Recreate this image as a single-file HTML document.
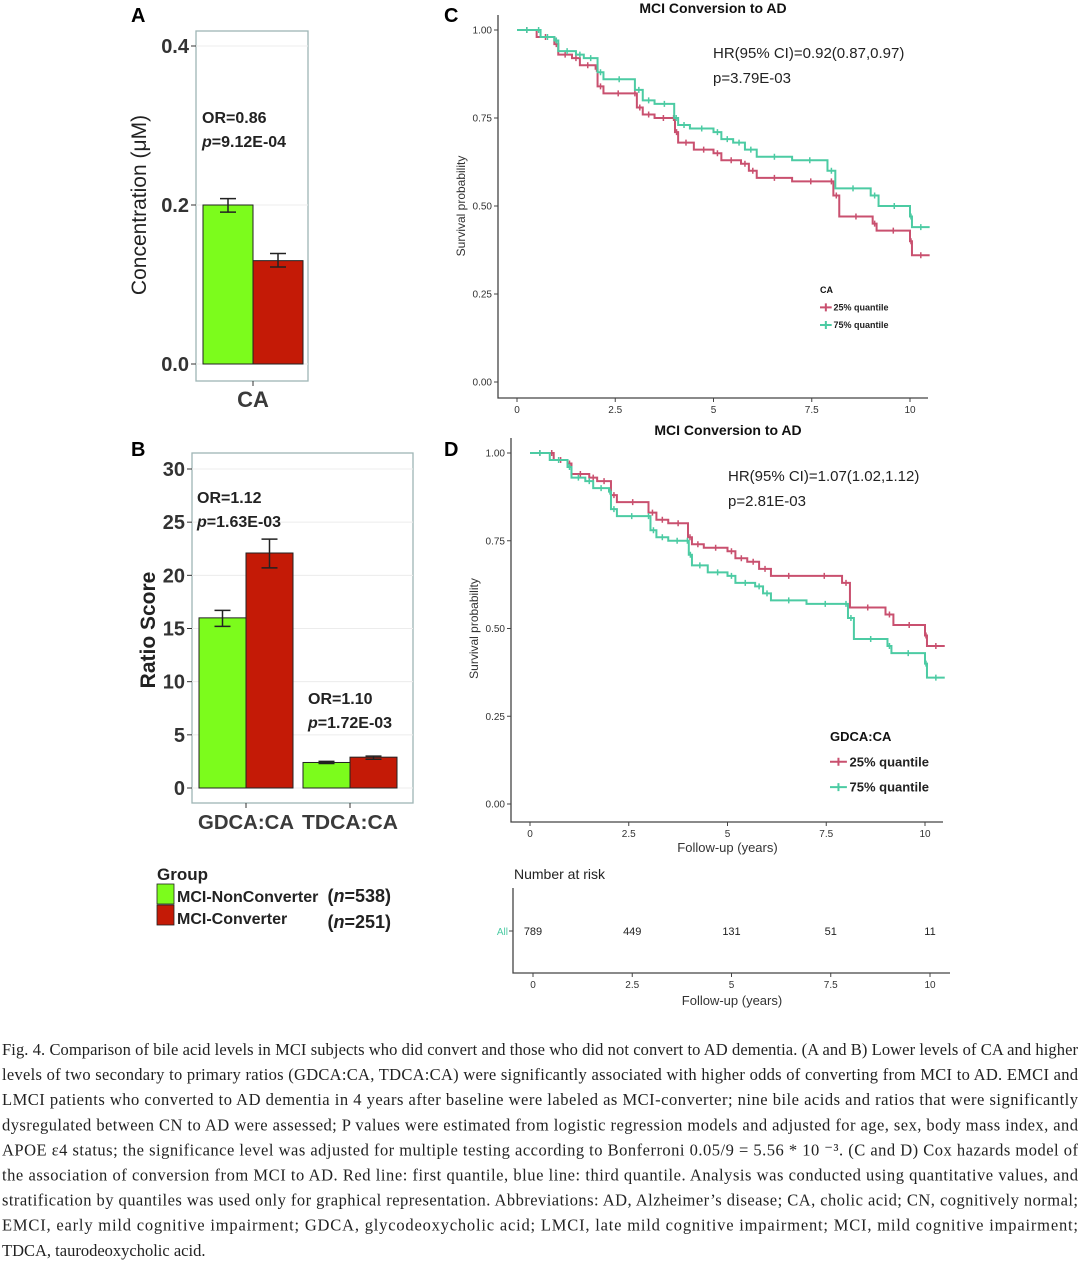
<!DOCTYPE html>
<html><head><meta charset="utf-8">
<style>
body{margin:0;background:#fff;width:1080px;height:1264px;overflow:hidden}
svg{position:absolute;left:0;top:0}
</style></head>
<body>
<svg id="fig" width="1080" height="1264" font-family="Liberation Sans, sans-serif"></svg>
<script>
// ---- Panel A data ----
const aCats = ["CA"];
const aNon = [0.20], aNonLo=[0.191], aNonHi=[0.208];
const aConv = [0.13], aConvLo=[0.122], aConvHi=[0.139];
const aTicks = [0.0, 0.2, 0.4];
// ---- Panel B data ----
const bCats = ["GDCA:CA","TDCA:CA"];
const bNon = [16.0, 2.4], bNonLo=[15.2,2.3], bNonHi=[16.7,2.5];
const bConv = [22.1, 2.9], bConvLo=[20.7,2.7], bConvHi=[23.4,3.0];
const bTicks = [0,5,10,15,20,25,30];
// ---- Survival data (time, survival) ----
const cRedT = [0,0.5,0.95,1.05,1.4,1.6,2.0,2.05,2.2,2.95,3.05,3.2,3.5,3.95,4.02,4.1,4.5,5.0,5.2,5.7,5.9,6.1,7.0,7.95,8.05,8.2,9.05,9.15,10.0,10.05,10.5];
const cRedS = [1.0,0.98,0.96,0.93,0.92,0.90,0.89,0.84,0.82,0.82,0.78,0.76,0.75,0.75,0.71,0.68,0.66,0.65,0.63,0.62,0.60,0.58,0.57,0.57,0.53,0.47,0.45,0.43,0.40,0.36,0.36];
const cGrnT = [0,0.5,0.6,0.95,1.05,1.5,1.7,2.05,2.2,3.0,3.2,3.5,4.0,4.1,4.4,5.0,5.2,5.5,5.8,6.1,7.0,7.9,8.1,9.0,9.2,10.0,10.05,10.5];
const cGrnS = [1.0,1.0,0.98,0.97,0.94,0.93,0.92,0.88,0.86,0.83,0.80,0.79,0.75,0.73,0.72,0.71,0.69,0.68,0.66,0.64,0.63,0.60,0.55,0.53,0.50,0.47,0.44,0.44];
const dRedT = cGrnT, dRedS = [1.0,1.0,0.98,0.97,0.94,0.93,0.92,0.88,0.86,0.83,0.81,0.80,0.76,0.74,0.73,0.72,0.70,0.69,0.67,0.65,0.65,0.63,0.56,0.54,0.51,0.48,0.45,0.45];
const dGrnT = cRedT, dGrnS = cRedS;
const survTicks = [0,0.25,0.5,0.75,1.0];
const survTickLabels = ["0.00","0.25","0.50","0.75","1.00"];
const timeTicks = [0,2.5,5,7.5,10];
const timeTickLabels = ["0","2.5","5","7.5","10"];
const riskCounts = [789,449,131,51,11];

const NS="http://www.w3.org/2000/svg";
const svg=document.getElementById('fig');
function el(tag,attrs,parent){const e=document.createElementNS(NS,tag);for(const k in attrs)e.setAttribute(k,attrs[k]);(parent||svg).appendChild(e);return e;}
function txt(s,attrs,parent){const e=el('text',attrs,parent);e.textContent=s;return e;}
const GREEN="#7cfc1c", RED="#c41a06", PINK="#c9506f", TEAL="#4ccba3", AX="#333";

function barPanel(name,box,y0,y1,vmax,ticks,tickFmt,cats,catX,barW,non,nonLo,nonHi,conv,convLo,convHi,catW){
  const g=el('g',{});
  
  
  const y=v=>y0-(v/vmax)*(y0-y1);
  el('rect',{x:box[0],y:box[1],width:box[2]-box[0],height:box[3]-box[1],fill:'#fff',stroke:'#9fb5b5','stroke-width':1.3},g);
  ticks.forEach(t=>{
    const gl=el('line',{x1:box[0],x2:box[2],y1:y(t),y2:y(t),stroke:'#ececec','stroke-width':1},g);
    
    el('line',{x1:box[0]-5,x2:box[0],y1:y(t),y2:y(t),stroke:AX,'stroke-width':1},g);
    const tl=txt(tickFmt(t),{x:box[0]-7,y:y(t)+7,'text-anchor':'end','font-size':20,'font-weight':'bold',fill:AX},g);
    
  });
  cats.forEach((c,i)=>{
    const cx=catX[i];
    [[non,nonLo,nonHi,GREEN,cx-barW,'bar-nonconverter'],[conv,convLo,convHi,RED,cx,'bar-converter']].forEach(s=>{
      const r=el('rect',{x:s[4],y:y(s[0][i]),width:barW,height:y(0)-y(s[0][i]),fill:s[3],stroke:'#222','stroke-width':1},g);
      
      const ex=s[4]+barW/2;
      const eb=el('path',{d:`M${ex-8},${y(s[1][i])}H${ex+8}M${ex},${y(s[1][i])}V${y(s[2][i])}M${ex-8},${y(s[2][i])}H${ex+8}`,stroke:'#222','stroke-width':1.5,fill:'none'},g);
      
    });
    el('line',{x1:cx,x2:cx,y1:box[3],y2:box[3]+5,stroke:AX},g);
    const a={x:cx,y:box[3]+26,'text-anchor':'middle','font-size':catW?20:22,'font-weight':'bold',fill:'#3a3a3a'};
    if(catW){a.textLength=catW;a.lengthAdjust='spacingAndGlyphs';}
    const cl=txt(c,a,g);
    
  });
  return g;
}
barPanel('panel-a-chart',[196,31,308,381],364,205,0.2,aTicks,t=>t.toFixed(1),aCats,[253],50,aNon,aNonLo,aNonHi,aConv,aConvLo,aConvHi,0);
barPanel('panel-b-chart',[192,453,413,803],788,469,30,bTicks,t=>String(t),bCats,[246,350],47,bNon,bNonLo,bNonHi,bConv,bConvLo,bConvHi,96);

function lbl(s,x,y,attrs,name){const t=txt(s,Object.assign({x:x,y:y},attrs));return t;}
lbl('A',131,22,{'font-size':20,'font-weight':'bold'},'panel-a-label');
lbl('B',131,456,{'font-size':20,'font-weight':'bold'},'panel-b-label');
lbl('C',444,22,{'font-size':20,'font-weight':'bold'},'panel-c-label');
lbl('D',444,456,{'font-size':20,'font-weight':'bold'},'panel-d-label');
lbl('Concentration (\u03bcM)',0,0,{'font-size':21,fill:'#222','text-anchor':'middle',transform:'translate(146,205) rotate(-90)'},'y-axis-title-a');
lbl('Ratio Score',0,0,{'font-size':21,'font-weight':'bold',fill:'#222','text-anchor':'middle',transform:'translate(155,630) rotate(-90)'},'y-axis-title-b');
const bold16={'font-size':16,'font-weight':'bold',fill:'#222'};
lbl('OR=0.86',202,123,bold16,'or-annotation-a');
const pa=lbl('',202,147,bold16,'p-annotation-a');pa.innerHTML='<tspan font-style="italic">p</tspan>=9.12E-04';
lbl('OR=1.12',197,503,bold16,'or-annotation-gdca');
const pb=lbl('',197,527,bold16,'p-annotation-gdca');pb.innerHTML='<tspan font-style="italic">p</tspan>=1.63E-03';
lbl('OR=1.10',308,704,bold16,'or-annotation-tdca');
const pc=lbl('',308,728,bold16,'p-annotation-tdca');pc.innerHTML='<tspan font-style="italic">p</tspan>=1.72E-03';
lbl('Group',157,880,{'font-size':17,'font-weight':'bold',fill:'#222'},'legend-title');
[[GREEN,884,'MCI-NonConverter','538',902],[RED,905,'MCI-Converter','251',924]].forEach((L,i)=>{
  const r=el('rect',{x:157,y:L[1],width:17,height:20,fill:L[0],stroke:'#222','stroke-width':0.8});
  
  lbl(L[2],177,L[4],{'font-size':16,'font-weight':'bold',fill:'#222'},'legend-label');
  const n=lbl('',391,L[4]+(i?4:0),{'font-size':18,'font-weight':'bold',fill:'#222','text-anchor':'end'},'legend-n');
  n.innerHTML='(<tspan font-style="italic">n</tspan>='+L[3]+')';
});

function survPanel(name,axL,axB,axR,yTop,yBot,x0,x10,red,grn,legendTitle,legX,legY,legSize,hr,hrY,title,titleX,titleY,xTitle){
  const g=el('g',{});
  
  const sx=t=>x0+(t/10)*(x10-x0), sy=s=>yBot-s*(yBot-yTop);
  el('path',{d:`M${axL},${yTop-15}V${axB}H${axR}`,stroke:'#444','stroke-width':1.3,fill:'none'},g);
  survTicks.forEach((t,i)=>{
    el('line',{x1:axL-4,x2:axL,y1:sy(t),y2:sy(t),stroke:'#444'},g);
    const l=txt(survTickLabels[i],{x:axL-6,y:sy(t)+3.5,'text-anchor':'end','font-size':10,fill:'#333'},g);
    
  });
  timeTicks.forEach((t,i)=>{
    el('line',{x1:sx(t),x2:sx(t),y1:axB,y2:axB+4,stroke:'#444'},g);
    const l=txt(timeTickLabels[i],{x:sx(t),y:axB+15,'text-anchor':'middle','font-size':10,fill:'#333'},g);
    
  });
  const yt=txt('Survival probability',{'font-size':12,fill:'#333','text-anchor':'middle',transform:`translate(${axL-33},${(yTop+yBot)/2}) rotate(-90)`},g);
  
  if(xTitle){const xt=txt('Follow-up (years)',{x:(x0+x10)/2,y:axB+30,'text-anchor':'middle','font-size':13,fill:'#333'},g);}
  const tt=txt(title,{x:titleX,y:titleY,'text-anchor':'middle','font-size':14,'font-weight':'bold',fill:'#111'},g);
  
  [[red,PINK,'curve-25-quantile'],[grn,TEAL,'curve-75-quantile']].forEach(c=>{
    const T=c[0][0],S=c[0][1];let d=`M${sx(T[0])},${sy(S[0])}`;
    for(let i=1;i<T.length;i++){d+=`H${sx(T[i])}V${sy(S[i])}`;}
    const p=el('path',{d:d,stroke:c[1],'stroke-width':2,fill:'none'},g);
    
    let cd='';
    for(let i=0;i<T.length-1;i++){const xm=(sx(T[i])+sx(T[i+1]))/2;cd+=`M${xm},${sy(S[i])-3}v6`;}
    const cm=el('path',{d:cd,stroke:c[1],'stroke-width':1.5,fill:'none'},g);
    
  });
  const h1=txt(hr[0],{x:hr[2],y:hrY,'font-size':15,fill:'#222'},g);
  const h2=txt(hr[1],{x:hr[2],y:hrY+25,'font-size':15,fill:'#222'},g);
  const lt=txt(legendTitle,{x:legX,y:legY,'font-size':legSize,'font-weight':'bold',fill:'#111'},g);
  
  const gap=legSize*1.95;
  [[PINK,'25% quantile'],[TEAL,'75% quantile']].forEach((L,i)=>{
    const yy=legY+gap*(i+1);
    const s=el('path',{d:`M${legX},${yy-legSize*0.35}h${legSize*1.3}M${legX+legSize*0.65},${yy-legSize*0.35-4}v8`,stroke:L[0],'stroke-width':2},g);
    
    const t=txt(L[1],{x:legX+legSize*1.5,y:yy,'font-size':legSize,'font-weight':'bold',fill:'#222'},g);
    
  });
}
survPanel('panel-c-chart',498,398,928,30,382,517,910,[cRedT,cRedS],[cGrnT,cGrnS],'CA',820,293,9,
  ['HR(95% CI)=0.92(0.87,0.97)','p=3.79E-03',713],58,'MCI Conversion to AD',713,13,false);
survPanel('panel-d-chart',511,822,943,453,804,530,925,[dRedT,dRedS],[dGrnT,dGrnS],'GDCA:CA',830,741,13,
  ['HR(95% CI)=1.07(1.02,1.12)','p=2.81E-03',728],481,'MCI Conversion to AD',728,435,true);

(function(){
  const g=el('g',{});
  const x0=533,x10=930,sx=t=>x0+(t/10)*(x10-x0);
  const rt=txt('Number at risk',{x:514,y:879,'font-size':14,fill:'#222'},g);
  el('path',{d:'M513,888V973H950',stroke:'#444','stroke-width':1.3,fill:'none'},g);
  el('line',{x1:509,x2:513,y1:931,y2:931,stroke:'#444'},g);
  const al=txt('All',{x:508,y:935,'text-anchor':'end','font-size':10,fill:TEAL},g);
  riskCounts.forEach((n,i)=>{
    const t=txt(String(n),{x:sx(timeTicks[i]),y:935,'text-anchor':'middle','font-size':11,fill:'#222'},g);
    
    el('line',{x1:sx(timeTicks[i]),x2:sx(timeTicks[i]),y1:973,y2:977,stroke:'#444'},g);
    const l=txt(timeTickLabels[i],{x:sx(timeTicks[i]),y:988,'text-anchor':'middle','font-size':10,fill:'#333'},g);
    
  });
  const xt=txt('Follow-up (years)',{x:732,y:1005,'text-anchor':'middle','font-size':13,fill:'#333'},g);
})();

const capLines=[
"Fig. 4.  Comparison of bile acid levels in MCI subjects who did convert and those who did not convert to AD dementia. (A and B) Lower levels of CA and higher",
"levels of two secondary to primary ratios (GDCA:CA, TDCA:CA) were significantly associated with higher odds of converting from MCI to AD. EMCI and",
"LMCI patients who converted to AD dementia in 4 years after baseline were labeled as MCI-converter; nine bile acids and ratios that were significantly",
"dysregulated between CN to AD were assessed; P values were estimated from logistic regression models and adjusted for age, sex, body mass index, and",
"APOE \u03b54 status; the significance level was adjusted for multiple testing according to Bonferroni 0.05/9 =  5.56 * 10 \u207b\u00b3. (C and D) Cox hazards model of",
"the association of conversion from MCI to AD. Red line: first quantile, blue line: third quantile. Analysis was conducted using quantitative values, and",
"stratification by quantiles was used only for graphical representation. Abbreviations: AD, Alzheimer\u2019s disease; CA, cholic acid; CN, cognitively normal;",
"EMCI, early mild cognitive impairment; GDCA, glycodeoxycholic acid; LMCI, late mild cognitive impairment; MCI, mild cognitive impairment;",
"TDCA, taurodeoxycholic acid."];
const cg=el('g',{});
capLines.forEach((s,i)=>{
  const a={x:2,y:1055+i*25.1,'font-size':16.5,fill:'#222',style:'font-family:"Liberation Serif",serif'};
  if(i<capLines.length-1){a.textLength=1076;a.lengthAdjust='spacing';}
  const t=txt(s,a,cg);
  
});
</script>
</body></html>
